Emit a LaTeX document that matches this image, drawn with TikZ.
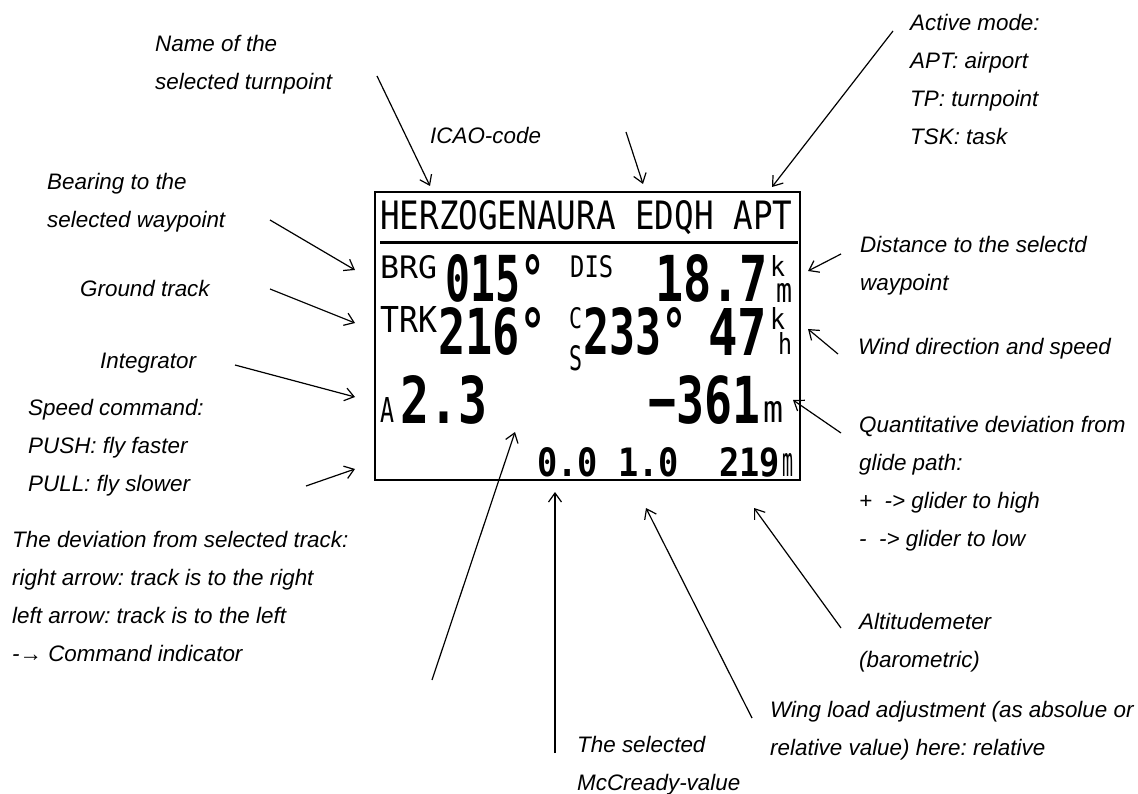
\documentclass[tikz,border=0pt]{standalone}
\usepackage{fontspec}
\usepackage{graphicx}
\setmainfont{Liberation Sans}
\newfontfamily\lcdfont{DejaVu Sans Mono}
\usetikzlibrary{arrows.meta,positioning}

\newcommand{\lcd}[3]{\resizebox{#1pt}{#2pt}{\lcdfont #3}}
\newcommand{\lcdb}[3]{\resizebox{#1pt}{#2pt}{\lcdfont\bfseries #3}}
\frenchspacing

\begin{document}
\begin{tikzpicture}[x=1pt, y=-1pt, >={Straight Barb[length=9pt,width=13pt]}]
    \tikzstyle{lbl} = [inner sep=0, anchor=base west, align=left, font=\itshape\fontsize{22.4}{38}\selectfont]
    \tikzstyle{lcdtxt} = [inner sep=0, anchor=base west]
    \tikzstyle{arrow} = [line width=1.2pt,->]
    \tikzstyle{frame} = [draw, line width=1.7pt, inner sep=0, minimum width=425pt, minimum height=288pt]

    \useasboundingbox (0,0) rectangle (1138,794);

    \node[frame] (lcd) at (587.5,336) {};
    \draw[line width=3pt] (380,242.5) -- (798,242.5);

    \node[lcdtxt] (hdr) at (380,230) {\lcd{412}{29}{HERZOGENAURA EDQH APT}};

    \node[lcdtxt] (brg) at (380,279) {\lcd{57}{23}{BRG}};
    \node[lcdtxt] (brgval) at (445,302) {\lcdb{100}{47}{015°}};
    \node[lcdtxt] (dis) at (570,278) {\lcd{43}{22}{DIS}};
    \node[lcdtxt] (disval) at (655,302) {\lcdb{113}{47}{18.7}};
    \node[lcdtxt] (disk) at (770,277) {\lcd{15}{21}{k}};
    \node[lcdtxt] (dism) at (776,303) {\lcd{16}{19}{m}};

    \node[lcdtxt] (trk) at (380,333) {\lcd{57}{26}{TRK}};
    \node[lcdtxt] (trkval) at (438,355) {\lcdb{109}{47}{216°}};
    \node[lcdtxt] (csc) at (569,329) {\lcd{13}{21}{C}};
    \node[lcdtxt] (css) at (569,370) {\lcd{13}{25}{S}};
    \node[lcdtxt] (wdir) at (583,355) {\lcdb{104}{47}{233°}};
    \node[lcdtxt] (wspd) at (708,355) {\lcdb{59}{47}{47}};
    \node[lcdtxt] (wk) at (770,330) {\lcd{15}{22}{k}};
    \node[lcdtxt] (wh) at (778,355) {\lcd{14}{22}{h}};

    \node[lcdtxt] (intl) at (380,422) {\lcd{14}{25}{A}};
    \node[lcdtxt] (intval) at (400,423) {\lcdb{87}{48}{2.3}};
    \node[lcdtxt] (devval) at (648,423) {\lcdb{112}{48}{−361}};
    \node[lcdtxt] (devm) at (763,422) {\lcd{20}{21}{m}};

    \node[lcdtxt] (mcval) at (537,476) {\lcdb{243}{29}{0.0 1.0\ \ 219}};
    \node[lcdtxt] (altm) at (782,476) {\lcd{11}{23}{m}};

    \node[lbl] (turnLbl) at (155,90) {Name of the\\selected turnpoint};
    \node[lbl] (icaoLbl) at (430,144) {ICAO-code};
    \node[lbl] (modeLbl) at (910,145) {Active mode:\\APT: airport\\TP: turnpoint\\TSK: task};
    \node[lbl] (brgLbl) at (47,228) {Bearing to the\\selected waypoint};
    \node[lbl] (trkLbl) at (80,297) {Ground track};
    \node[lbl] (intLbl) at (100,368) {Integrator};
    \node[lbl] (spdLbl) at (28,491) {Speed command:\\PUSH: fly faster\\PULL: fly slower};
    \node[lbl] (cmdLbl) at (12,661) {The deviation from selected track:\\right arrow: track is to the right\\left arrow: track is to the left\\-→ Command indicator};
    \node[lbl] (disLbl) at (860,291) {Distance to the selectd\\waypoint};
    \node[lbl] (windLbl) at (858,354) {Wind direction and speed};
    \node[lbl] (glideLbl) at (859,546) {Quantitative deviation from\\glide path:\\+\ \ -> glider to high\\-\ \ -> glider to low};
    \node[lbl] (altLbl) at (859,667) {Altitudemeter\\(barometric)};
    \node[lbl] (wingLbl) at (770,755) {Wing load adjustment (as absolue or\\relative value) here: relative};
    \node[lbl] (mcLbl) at (577,790) {The selected\\McCready-value};

    \coordinate (turnFrom) at (377,76);   \coordinate (turnTo) at (430,186);
    \coordinate (icaoFrom) at (626,132);  \coordinate (icaoTo) at (643,184);
    \coordinate (modeFrom) at (893,31);   \coordinate (modeTo) at (772,187);
    \coordinate (brgFrom) at (270,220);   \coordinate (brgTo) at (355,270);
    \coordinate (trkFrom) at (270,289);   \coordinate (trkTo) at (355,323);
    \coordinate (intFrom) at (235,365);   \coordinate (intTo) at (355,397);
    \coordinate (spdFrom) at (306,486);   \coordinate (spdTo) at (355,469);
    \coordinate (disFrom) at (841,254);   \coordinate (disTo) at (808,271);
    \coordinate (windFrom) at (838,354);  \coordinate (windTo) at (808,329);
    \coordinate (glideFrom) at (841,433); \coordinate (glideTo) at (793,400);
    \coordinate (cmdFrom) at (432,680);   \coordinate (cmdTo) at (515,432);
    \coordinate (mcFrom) at (555,753);    \coordinate (mcTo) at (555,492);
    \coordinate (wingFrom) at (752,718);  \coordinate (wingTo) at (646,508);
    \coordinate (altFrom) at (841,628);   \coordinate (altTo) at (754,508);

    \draw[arrow] (turnFrom) -- (turnTo);
    \draw[arrow] (icaoFrom) -- (icaoTo);
    \draw[arrow] (modeFrom) -- (modeTo);
    \draw[arrow] (brgFrom) -- (brgTo);
    \draw[arrow] (trkFrom) -- (trkTo);
    \draw[arrow] (intFrom) -- (intTo);
    \draw[arrow] (spdFrom) -- (spdTo);
    \draw[arrow] (disFrom) -- (disTo);
    \draw[arrow] (windFrom) -- (windTo);
    \draw[arrow] (glideFrom) -- (glideTo);
    \draw[arrow] (cmdFrom) -- (cmdTo);
    \draw[arrow] (mcFrom) -- (mcTo);
    \draw[arrow] (wingFrom) -- (wingTo);
    \draw[arrow] (altFrom) -- (altTo);
\end{tikzpicture}
\end{document}
